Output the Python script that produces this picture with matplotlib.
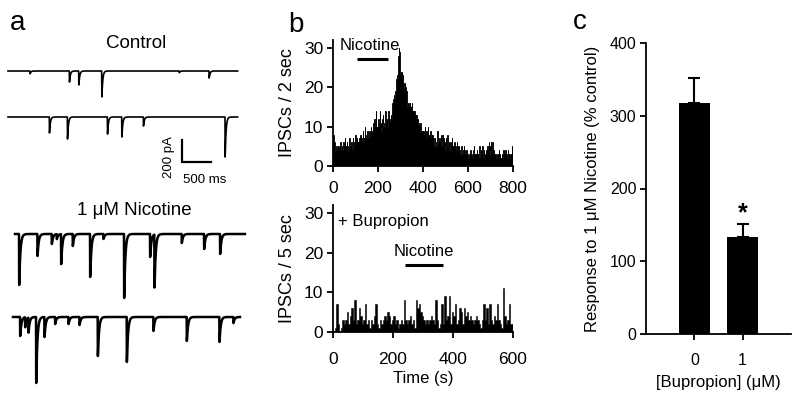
import numpy as np
import matplotlib
matplotlib.use("Agg")
import matplotlib.pyplot as plt

plt.rcParams['font.family'] = ['Liberation Sans', 'DejaVu Sans']

# ---- panel a: IPSC events (time in ms from trace start, amplitude in pA)
ctrl1_t = [379, 1057, 1218, 1615, 2950, 3465]
ctrl1_a = [25, 100, 127, 236, 15, 64]
ctrl2_t = [712, 1023, 1713, 1960, 2333, 3741]
ctrl2_a = [145, 200, 155, 182, 82, 364]
nic1_t = [69, 385, 632, 718, 793, 994, 1293, 1523, 1879, 2327, 2402, 2873, 3258, 3534]
nic1_a = [464, 200, 91, 45, 273, 109, 391, 45, 582, 209, 482, 82, 136, 182]
nic2_t = [121, 207, 264, 397, 540, 724, 954, 1144, 1460, 1960, 2419, 2994, 3557, 3798]
nic2_a = [173, 91, 136, 600, 182, 64, 64, 73, 355, 409, 127, 218, 227, 55]
trace_len = [3960, 3960, 3965, 3914]

# ---- panel b: IPSC counts, 2 s bins (control run) and 5 s bins (+ bupropion)
ipsc_2s = [
    5, 8, 7, 6, 4, 4, 5, 5, 4, 4, 5, 5, 4, 4, 5, 4, 6, 5, 4, 4,
    5, 4, 4, 6, 5, 5, 7, 5, 4, 5, 5, 6, 5, 5, 4, 4, 7, 6, 5, 5,
    5, 6, 5, 4, 7, 5, 5, 6, 5, 8, 6, 5, 6, 7, 6, 5, 6, 6, 7, 5,
    6, 8, 6, 7, 7, 6, 9, 7, 6, 7, 10, 7, 8, 7, 7, 7, 9, 8, 7, 8,
    8, 9, 7, 8, 10, 8, 8, 9, 9, 11, 8, 9, 12, 9, 10, 14, 10, 8, 10, 9,
    9, 12, 9, 10, 14, 10, 11, 9, 12, 10, 10, 13, 11, 9, 10, 12, 14, 10, 11, 10,
    12, 10, 11, 14, 11, 12, 10, 11, 13, 11, 12, 11, 16, 17, 17, 18, 17, 18, 19, 20,
    21, 22, 23, 22, 24, 28, 30, 29, 24, 23, 24, 22, 23, 24, 22, 23, 21, 20, 19, 21,
    19, 20, 18, 19, 16, 15, 16, 15, 14, 16, 15, 16, 15, 14, 15, 16, 14, 13, 14, 13,
    13, 14, 12, 13, 12, 13, 11, 12, 10, 11, 9, 10, 10, 9, 11, 10, 9, 8, 9, 8,
    8, 9, 7, 8, 10, 8, 7, 9, 8, 7, 8, 10, 7, 8, 7, 6, 9, 7, 7, 8,
    7, 8, 6, 7, 6, 5, 7, 6, 6, 5, 6, 7, 9, 6, 6, 5, 7, 6, 6, 8,
    6, 5, 6, 8, 6, 7, 5, 6, 5, 4, 7, 5, 5, 6, 8, 5, 5, 6, 4, 5,
    5, 6, 4, 5, 7, 5, 4, 5, 5, 6, 4, 4, 5, 4, 4, 6, 4, 5, 4, 4,
    5, 4, 4, 3, 4, 5, 4, 3, 3, 4, 3, 5, 3, 3, 4, 3, 3, 4, 3, 3,
    3, 2, 2, 3, 2, 4, 3, 3, 2, 2, 3, 2, 4, 5, 3, 2, 3, 2, 3, 2,
    4, 2, 3, 2, 2, 5, 3, 2, 4, 2, 3, 2, 5, 3, 2, 4, 2, 2, 3, 2,
    3, 4, 3, 5, 3, 4, 6, 4, 5, 3, 6, 4, 4, 5, 6, 3, 4, 3, 3, 2,
    3, 2, 2, 3, 2, 2, 3, 2, 4, 2, 2, 3, 2, 2, 2, 3, 2, 2, 4, 2,
    2, 3, 2, 4, 2, 3, 2, 2, 4, 3, 2, 2, 3, 2, 2, 3, 2, 5, 2, 2,
]
ipsc_5s = [
    0, 1, 7, 2, 0, 1, 3, 2, 3, 5, 2, 4,
    6, 3, 8, 2, 3, 6, 4, 2, 3, 7, 2, 3,
    1, 3, 2, 4, 7, 2, 1, 3, 2, 3, 4, 3,
    5, 4, 2, 3, 4, 2, 3, 1, 2, 3, 2, 8,
    3, 2, 3, 4, 2, 3, 1, 8, 6, 7, 5, 4,
    3, 2, 3, 2, 3, 4, 3, 2, 8, 3, 1, 2,
    7, 2, 9, 3, 4, 9, 2, 5, 4, 7, 2, 3,
    6, 5, 2, 6, 4, 5, 3, 4, 3, 2, 3, 4,
    3, 2, 1, 3, 7, 3, 6, 2, 7, 3, 2, 4,
    3, 7, 3, 2, 1, 11, 4, 2, 3, 7, 2, 2,
]
nic_on_top = (107, 244)
nic_on_bot = (240, 367)

# ---- panel c: response to nicotine
bup_labels = ["0", "1"]
resp_mean = [317, 133]
resp_sem = [35, 18]


def trace(times, amps, length, tau_r=1.0, tau_d=16.0):
    t = np.arange(0, length, 1.0)
    y = np.zeros_like(t)
    tp = tau_r * tau_d / (tau_d - tau_r) * np.log(tau_d / tau_r)
    norm = np.exp(-tp / tau_d) - np.exp(-tp / tau_r)
    for ti, ai in zip(times, amps):
        dt = t - ti
        m = dt >= 0
        y[m] -= ai * (np.exp(-dt[m] / tau_d) - np.exp(-dt[m] / tau_r)) / norm
    return t, y


fig = plt.figure(figsize=(8, 4), dpi=100)

# panel a, axes in ms / pA so the scale bar is true
ms_px = 500 / 29
pa_px = 200 / 22
ax_a = fig.add_axes([0, 0, 260 / 800, 1])
ax_a.set_xlim(0, 260 * ms_px)
ax_a.set_ylim(-400 * pa_px, 0)
ax_a.axis("off")

layout = [(8, 71, 1.2, 15), (8, 117, 1.2, 15), (15, 234, 1.8, 20), (13, 317, 1.8, 20)]
events = [(ctrl1_t, ctrl1_a), (ctrl2_t, ctrl2_a), (nic1_t, nic1_a), (nic2_t, nic2_a)]
for (x0, y0, lw, tau), (tt, aa), L in zip(layout, events, trace_len):
    t, y = trace(tt, aa, L, tau_d=tau)
    ax_a.plot(t + x0 * ms_px, y - y0 * pa_px, color="k", lw=lw)

# scale bar
sx, sy = 182.5 * ms_px, -162 * pa_px
ax_a.plot([sx, sx, sx + 500], [sy + 200, sy, sy], color="k", lw=1.6,
          solid_joinstyle="miter")
fig.text(169 / 800, 1 - 157 / 400, "200 pA", rotation=90, ha="center", va="center",
         fontsize=9.5)
fig.text(183 / 800, 1 - 183 / 400, "500 ms", ha="left", va="baseline", fontsize=9.5)
fig.text(136 / 800, 1 - 48 / 400, "Control", ha="center", va="baseline", fontsize=13.5)
fig.text(134.5 / 800, 1 - 215 / 400, "1 \u03bcM Nicotine", ha="center", va="baseline",
         fontsize=13.5)

# panel labels
fig.text(10 / 800, 1 - 30 / 400, "a", fontsize=20, va="baseline")
fig.text(288 / 800, 1 - 32 / 400, "b", fontsize=20, va="baseline")
fig.text(573 / 800, 1 - 29 / 400, "c", fontsize=20, va="baseline")


def style(ax, fs):
    for s in ("top", "right"):
        ax.spines[s].set_visible(False)
    for s in ("left", "bottom"):
        ax.spines[s].set_linewidth(1.3)
    ax.tick_params(direction="out", length=4.5, width=1.3, labelsize=fs, pad=2.5)


# panel b top
ax_b1 = fig.add_axes([333 / 800, 1 - 166 / 400, 180 / 800, 126 / 400])
ax_b1.stairs(ipsc_2s, np.arange(0, 2 * len(ipsc_2s) + 1, 2), fill=True,
             facecolor="k", edgecolor="k", linewidth=0.6)
ax_b1.set_xlim(0, 800)
ax_b1.set_ylim(0, 32)
ax_b1.set_xticks([0, 200, 400, 600, 800])
ax_b1.set_yticks([0, 10, 20, 30])
style(ax_b1, 12.5)
ax_b1.tick_params(axis="x", pad=6)
ax_b1.set_ylabel("IPSCs / 2 sec", fontsize=13, labelpad=6)
ax_b1.plot(nic_on_top, [27.2, 27.2], color="k", lw=2.2, solid_capstyle="butt")
ax_b1.text(31, 29.5, "Nicotine", fontsize=12, va="baseline")

# panel b bottom
ax_b2 = fig.add_axes([333 / 800, 1 - 332 / 400, 180 / 800, 127 / 400])
ax_b2.stairs(ipsc_5s, np.arange(0, 5 * len(ipsc_5s) + 1, 5), fill=True,
             facecolor="k", edgecolor="k", linewidth=0.4)
ax_b2.set_xlim(0, 600)
ax_b2.set_ylim(0, 32)
ax_b2.set_xticks([0, 200, 400, 600])
ax_b2.set_yticks([0, 10, 20, 30])
style(ax_b2, 12.5)
ax_b2.tick_params(axis="x", pad=10)
ax_b2.set_ylabel("IPSCs / 5 sec", fontsize=13, labelpad=6)
ax_b2.set_xlabel("Time (s)", fontsize=12, labelpad=3)
ax_b2.plot(nic_on_bot, [16.9, 16.9], color="k", lw=2.2, solid_capstyle="butt")
ax_b2.text(203, 19.1, "Nicotine", fontsize=12, va="baseline")
ax_b2.text(17, 26.7, "+ Bupropion", fontsize=12, va="baseline")

# panel c
ax_c = fig.add_axes([646 / 800, 1 - 334 / 400, 145 / 800, 291 / 400])
xpos = np.arange(len(bup_labels))
ax_c.bar(xpos, resp_mean, width=0.65, color="k",
         yerr=[np.zeros(len(resp_sem)), resp_sem], capsize=4.3,
         error_kw=dict(elinewidth=1.5, capthick=1.5, ecolor="k"))
ax_c.set_xlim(-1, 2)
ax_c.set_ylim(0, 400)
ax_c.set_xticks(xpos)
ax_c.set_xticklabels(bup_labels)
ax_c.set_yticks([0, 100, 200, 300, 400])
style(ax_c, 11.5)
ax_c.tick_params(axis="x", pad=9)
ax_c.set_ylabel("Response to 1 \u03bcM Nicotine (% control)", fontsize=12, labelpad=7)
ax_c.set_xlabel("[Bupropion] (\u03bcM)", fontsize=12, labelpad=5)
ax_c.text(1, 156, "*", fontsize=18, fontweight="bold", ha="center", va="baseline")

fig.savefig("out.png", dpi=100)
